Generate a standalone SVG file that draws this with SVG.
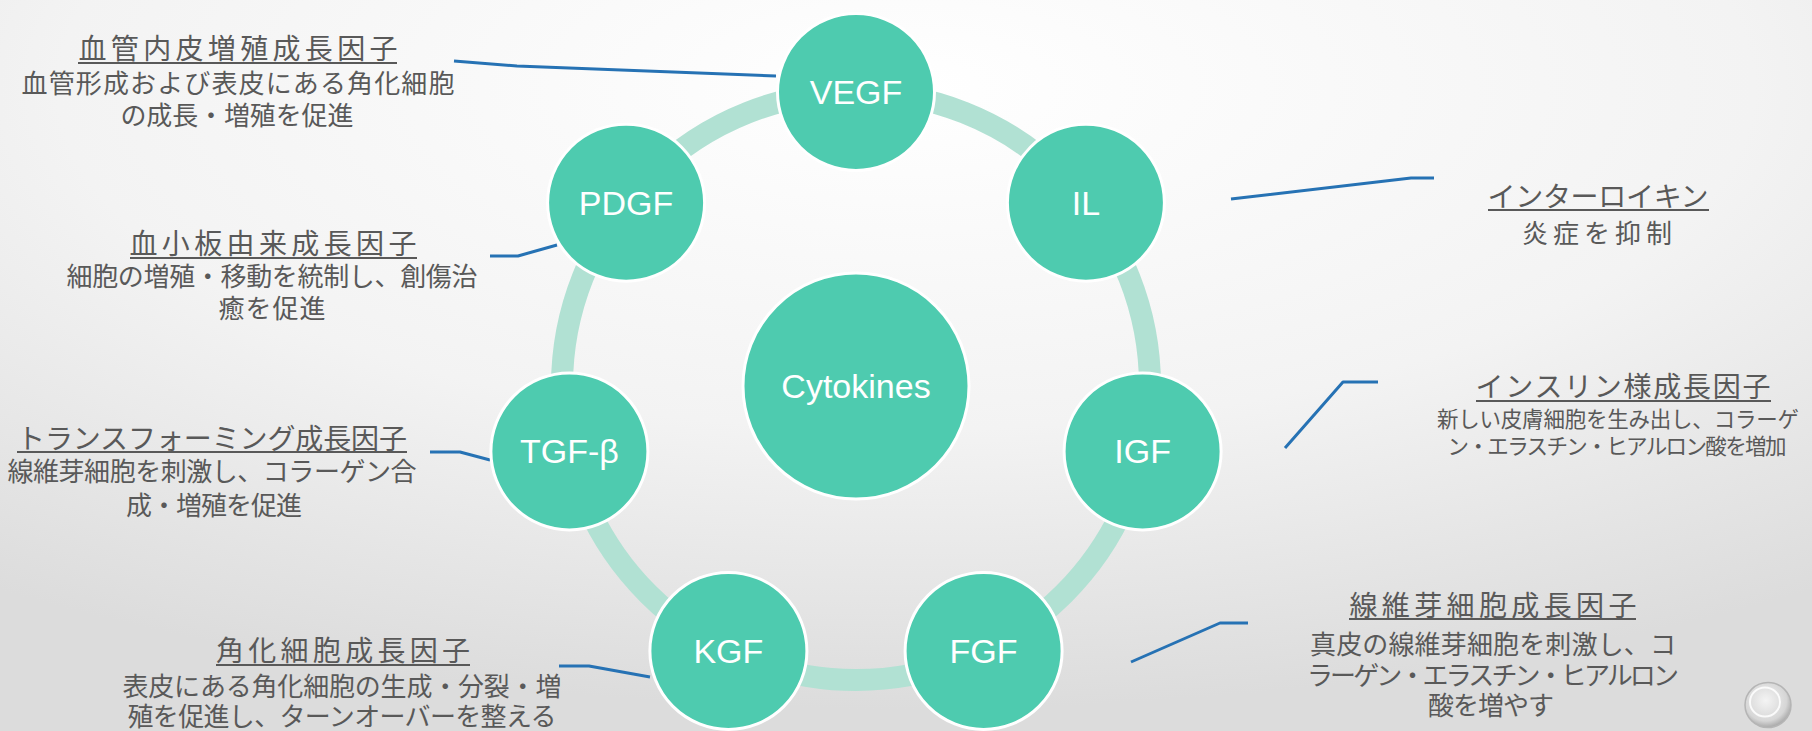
<svg xmlns="http://www.w3.org/2000/svg" width="1812" height="731" viewBox="0 0 1812 731">
<defs>
<radialGradient id="bg" cx="0.5" cy="0.12" r="0.85">
<stop offset="0" stop-color="#ffffff"/>
<stop offset="0.55" stop-color="#f3f3f3"/>
<stop offset="1" stop-color="#dcdcdc"/>
</radialGradient>
<radialGradient id="btn" cx="0.45" cy="0.4" r="0.65">
<stop offset="0" stop-color="#f4f4f4"/>
<stop offset="0.7" stop-color="#d6d6d6"/>
<stop offset="1" stop-color="#9a9a9a"/>
</radialGradient>
<style>
.node{fill:#4ecbaf;stroke:#ffffff;stroke-width:3}
.nt{fill:#ffffff;font-family:"Liberation Sans",Arial,sans-serif;font-size:34px;text-anchor:middle}
.ring{fill:none;stroke:#b1e1d3;stroke-width:22}
.conn{fill:none;stroke:#2672b4;stroke-width:3;stroke-linejoin:round}
.tt{fill:#595959;font-family:"Noto Sans CJK JP",sans-serif;font-size:28px;text-anchor:middle}
.ul{stroke:#595959;stroke-width:2}
.bd{fill:#595959;font-family:"Noto Sans CJK JP",sans-serif;font-size:26px;text-anchor:middle}
.sm{font-size:21.5px}
</style>
</defs>
<rect width="1812" height="731" fill="url(#bg)"/>
<circle class="ring" cx="856" cy="386" r="294"/>
<g id="connectors">
<polyline class="conn" points="454,61 517,66 776,76"/>
<polyline class="conn" points="1231,199 1411,178 1434,178"/>
<polyline class="conn" points="490,256 518,256 557,245"/>
<polyline class="conn" points="430,452 460,452 490,460"/>
<polyline class="conn" points="1285,448 1343,382 1378,382"/>
<polyline class="conn" points="1131,662 1220,623 1248,623"/>
<polyline class="conn" points="559,666 589,666 650,677"/>
</g>
<g id="node-cytokines"><circle class="node" cx="856" cy="386" r="113"/><text class="nt" x="856" y="398" font-size="35">Cytokines</text></g>
<g id="node-vegf"><circle class="node" cx="856" cy="92" r="78.5"/><text class="nt" x="856" y="104">VEGF</text></g>
<g id="node-il"><circle class="node" cx="1085.9" cy="202.7" r="78.5"/><text class="nt" x="1085.9" y="214.7">IL</text></g>
<g id="node-igf"><circle class="node" cx="1142.6" cy="451.4" r="78.5"/><text class="nt" x="1142.6" y="463.4">IGF</text></g>
<g id="node-fgf"><circle class="node" cx="983.6" cy="650.9" r="78.5"/><text class="nt" x="983.6" y="662.9">FGF</text></g>
<g id="node-kgf"><circle class="node" cx="728.4" cy="650.9" r="78.5"/><text class="nt" x="728.4" y="662.9">KGF</text></g>
<g id="node-tgf"><circle class="node" cx="569.4" cy="451.4" r="78.5"/><text class="nt" x="569.4" y="463.4">TGF-β</text></g>
<g id="node-pdgf"><circle class="node" cx="626.1" cy="202.7" r="78.5"/><text class="nt" x="626.1" y="214.7">PDGF</text></g>
<g id="label-vegf">
<text class="tt" x="238" y="59" textLength="319">血管内皮増殖成長因子</text>
<line class="ul" x1="78" y1="63" x2="397" y2="63"/>
<text class="bd" x="238" y="93" textLength="433">血管形成および表皮にある角化細胞</text>
<text class="bd" x="237" y="125" textLength="233">の成長・増殖を促進</text>
</g>
<g id="label-pdgf">
<text class="tt" x="273" y="254" textLength="287">血小板由来成長因子</text>
<line class="ul" x1="130" y1="258" x2="417" y2="258"/>
<text class="bd" x="272" y="286" textLength="411">細胞の増殖・移動を統制し、創傷治</text>
<text class="bd" x="272" y="318" textLength="107">癒を促進</text>
</g>
<g id="label-tgf">
<text class="tt" x="212" y="449" textLength="390">トランスフォーミング成長因子</text>
<line class="ul" x1="17" y1="452" x2="407" y2="452"/>
<text class="bd" x="212" y="481" textLength="409">線維芽細胞を刺激し、コラーゲン合</text>
<text class="bd" x="214" y="515" textLength="176">成・増殖を促進</text>
</g>
<g id="label-kgf">
<text class="tt" x="343" y="661" textLength="254">角化細胞成長因子</text>
<line class="ul" x1="216" y1="665" x2="470" y2="665"/>
<text class="bd" x="342" y="696" textLength="439">表皮にある角化細胞の生成・分裂・増</text>
<text class="bd" x="342" y="726" textLength="429">殖を促進し、ターンオーバーを整える</text>
</g>
<g id="label-il">
<text class="tt" x="1598" y="207" textLength="221">インターロイキン</text>
<line class="ul" x1="1488" y1="210" x2="1709" y2="210"/>
<text class="bd" x="1597" y="243" textLength="150">炎症を抑制</text>
</g>
<g id="label-igf">
<text class="tt" x="1623" y="397" textLength="295">インスリン様成長因子</text>
<line class="ul" x1="1476" y1="401" x2="1771" y2="401"/>
<text class="bd sm" x="1618" y="427" textLength="362">新しい皮膚細胞を生み出し、コラーゲ</text>
<text class="bd sm" x="1617" y="454" textLength="339">ン・エラスチン・ヒアルロン酸を増加</text>
</g>
<g id="label-fgf">
<text class="tt" x="1493" y="616" textLength="287">線維芽細胞成長因子</text>
<line class="ul" x1="1349" y1="619" x2="1636" y2="619"/>
<text class="bd" x="1493" y="654" textLength="366">真皮の線維芽細胞を刺激し、コ</text>
<text class="bd" x="1493" y="685" textLength="372">ラーゲン・エラスチン・ヒアルロン</text>
<text class="bd" x="1491" y="715" textLength="126">酸を増やす</text>
</g>
<g id="button">
<ellipse cx="1768" cy="705" rx="23" ry="22.5" fill="url(#btn)" stroke="#b5b5b5" stroke-width="1.5"/>
<ellipse cx="1765" cy="702" rx="15" ry="14.5" fill="none" stroke="#ffffff" stroke-width="2" opacity="0.85"/>
</g>
</svg>
